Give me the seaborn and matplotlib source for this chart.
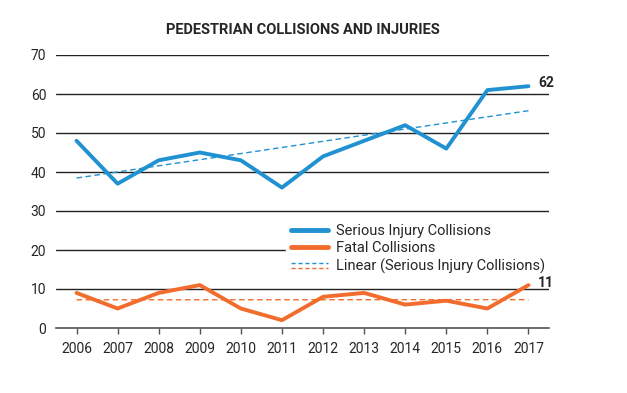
import matplotlib
matplotlib.use("Agg")
import matplotlib.pyplot as plt
from matplotlib.legend_handler import HandlerBase
from matplotlib.lines import Line2D
import seaborn as sns
import pandas as pd

# values
years = [2006, 2007, 2008, 2009, 2010, 2011, 2012, 2013, 2014, 2015, 2016, 2017]
serious = [48, 37, 43, 45, 43, 36, 44, 48, 52, 46, 61, 62]
fatal = [9, 5, 9, 11, 5, 2, 8, 9, 6, 7, 5, 11]
yticks = [0, 10, 20, 30, 40, 50, 60, 70]

blue = "#2092d1"
orange = "#f26d2d"

df = pd.DataFrame({"year": years, "serious": serious, "fatal": fatal})

sns.set_theme(style="white")
plt.rcParams["font.family"] = ["Roboto", "DejaVu Sans"]

fig = plt.figure(figsize=(6.27, 3.93), dpi=100)
ax = fig.add_axes([56 / 627, 1 - 328 / 393, (549 - 56) / 627, (328 - 55) / 393])

for y in yticks[1:]:
    ax.axhline(y, color="#222222", lw=1.0, zorder=0)

sns.lineplot(data=df, x="year", y="serious", color=blue, lw=2.8, ax=ax, zorder=3)
sns.lineplot(data=df, x="year", y="fatal", color=orange, lw=2.8, ax=ax, zorder=3)
sns.regplot(data=df, x="year", y="serious", scatter=False, ci=None, ax=ax,
            line_kws={"color": blue, "lw": 1.0, "ls": (0, (4, 2.5))})
sns.regplot(data=df, x="year", y="fatal", scatter=False, ci=None, ax=ax,
            line_kws={"color": orange, "lw": 1.0, "ls": (0, (4, 2.5))})

ax.text(years[-1] + 0.24, serious[-1] + 0.8, str(serious[-1]), fontsize=10,
        fontweight="bold", va="center", ha="left", zorder=7)
ax.text(years[-1] + 0.22, fatal[-1] + 0.6, str(fatal[-1]), fontsize=10,
        fontweight="bold", va="center", ha="left", zorder=7)

ax.set_xlim(2005.5, 2017.5)
ax.set_ylim(0, 70)
ax.set_xticks(years)
ax.set_xticklabels([str(y) for y in years])
ax.set_yticks(yticks)
ax.set_xlabel("")
ax.set_ylabel("")
ax.tick_params(axis="x", length=4, width=1, color="#555555", labelsize=10, pad=6,
               direction="out", bottom=True)
ax.tick_params(axis="y", length=0, labelsize=10, pad=7)
for s in ["top", "right", "left"]:
    ax.spines[s].set_visible(False)
ax.spines["bottom"].set_color("#555555")
ax.spines["bottom"].set_linewidth(1.2)

ax.set_title("PEDESTRIAN COLLISIONS AND INJURIES", fontsize=10.5, fontweight="bold", pad=15)


class TwoDashes(HandlerBase):
    def create_artists(self, legend, orig, xd, yd, w, h, fontsize, trans):
        x0, y0 = -xd, -yd
        a = Line2D([x0, x0 + w], [y0 + h * 0.75] * 2, color=blue, lw=1.0, ls=(0, (3, 2)), transform=trans)
        b = Line2D([x0, x0 + w], [y0 + h * 0.2] * 2, color=orange, lw=1.0, ls=(0, (3, 2)), transform=trans)
        return [a, b]


handles = [Line2D([], [], color=blue, lw=3.5),
           Line2D([], [], color=orange, lw=3.5),
           "trend"]
labels = ["Serious Injury Collisions", "Fatal Collisions", "Linear (Serious Injury Collisions)"]
leg = ax.legend(handles, labels, handler_map={str: TwoDashes()},
                loc="upper left", bbox_to_anchor=(286 / 627, 1 - 219 / 393),
                bbox_transform=fig.transFigure, frameon=True, fancybox=False,
                facecolor="white", edgecolor="white", framealpha=1,
                fontsize=10.5, handlelength=2.5, handletextpad=0.55,
                labelspacing=0.22, borderpad=0.35, borderaxespad=0)
leg.set_zorder(5)

fig.savefig("out.png", dpi=100)
